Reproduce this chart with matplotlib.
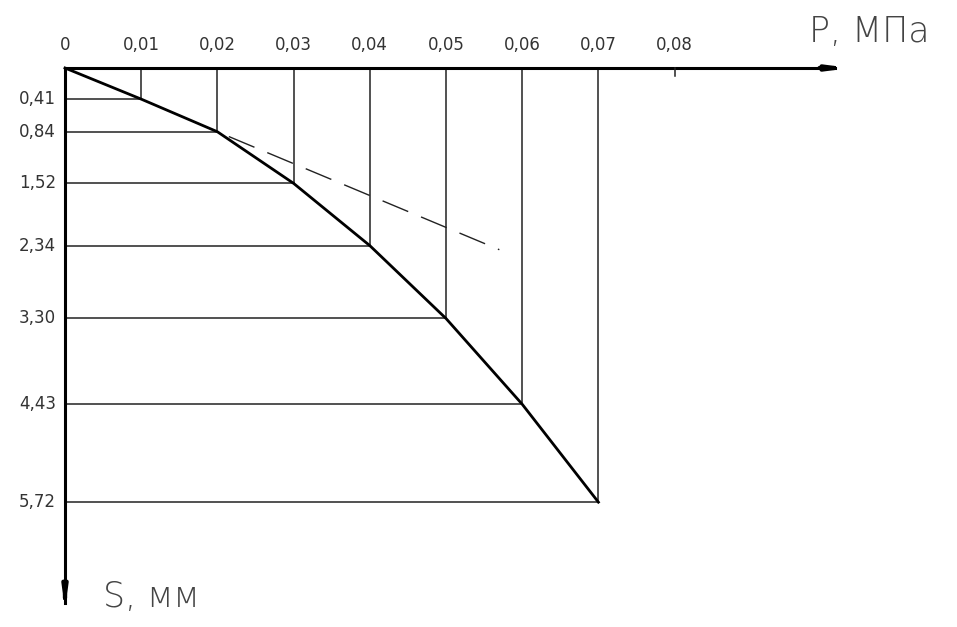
import numpy as np
import matplotlib
matplotlib.use("Agg")
import matplotlib.pyplot as plt

# load-settlement test: pressure P (MPa) vs settlement S (mm)
P = [0.0, 0.01, 0.02, 0.03, 0.04, 0.05, 0.06, 0.07]
S = [0.0, 0.41, 0.84, 1.52, 2.34, 3.30, 4.43, 5.72]
x_ticks = [0.0, 0.01, 0.02, 0.03, 0.04, 0.05, 0.06, 0.07, 0.08]
x_labels = ["0", "0,01", "0,02", "0,03", "0,04", "0,05", "0,06", "0,07", "0,08"]
y_labels = ["0,41", "0,84", "1,52", "2,34", "3,30", "4,43", "5,72"]
# linear part extension (dashed)
lin_P = [0.0215, 0.057]
lin_S = [0.903, 2.394]

plt.rcParams['font.family'] = ['Liberation Sans Narrow', 'DejaVu Sans']

fig = plt.figure(figsize=(9.57, 6.27), dpi=100)
ax = fig.add_axes([0, 0, 1, 1])
ax.set_xlim(-65 / 7620, (957 - 65) / 7620)
ax.set_ylim((627 - 68) / 75.9, -68 / 75.9)
ax.axis('off')

c = '#222222'
# projection lines
for p, s in zip(P[1:], S[1:]):
    ax.plot([p, p], [0, s], color=c, lw=1.1)
    ax.plot([0, p], [s, s], color=c, lw=1.1)

ax.plot(P, S, color='black', lw=2.0, solid_joinstyle='round')
ax.plot(lin_P, lin_S, color=c, lw=1.0, dashes=(20, 10))

# axes with arrows
ax.plot([0, 0.1010], [0, 0], color='black', lw=2.2)
ax.plot([0, 0], [0, 7.05], color='black', lw=2.2)
arr = dict(arrowstyle='-|>,head_length=0.9,head_width=0.12',
           color='black', lw=3, shrinkA=0, shrinkB=0)
ax.annotate('', xy=(0.1030, 0), xytext=(0.0990, 0), arrowprops=arr)
ax.annotate('', xy=(0, 7.14), xytext=(0, 6.93), arrowprops=arr)
# small tick at 0.08
ax.plot([0.08, 0.08], [0, 0.1], color=c, lw=1.1)

for xt, lab in zip(x_ticks, x_labels):
    ax.text(xt, -0.30, lab, ha='center', va='center', fontsize=12, color='#333333')
for s, lab in zip(S[1:], y_labels):
    ax.text(-0.0012, s, lab, ha='right', va='center', fontsize=12, color='#333333')

ax.text(0.0976, -0.47, 'P, МПа', ha='left', va='center', fontsize=25,
        color='#444444', family=['DejaVu Sans'], fontweight='light')
ax.text(0.0050, 6.97, 'S, мм', ha='left', va='center', fontsize=25,
        color='#444444', family=['DejaVu Sans'], fontweight='light')

fig.savefig('out.png', dpi=100, facecolor='white')
